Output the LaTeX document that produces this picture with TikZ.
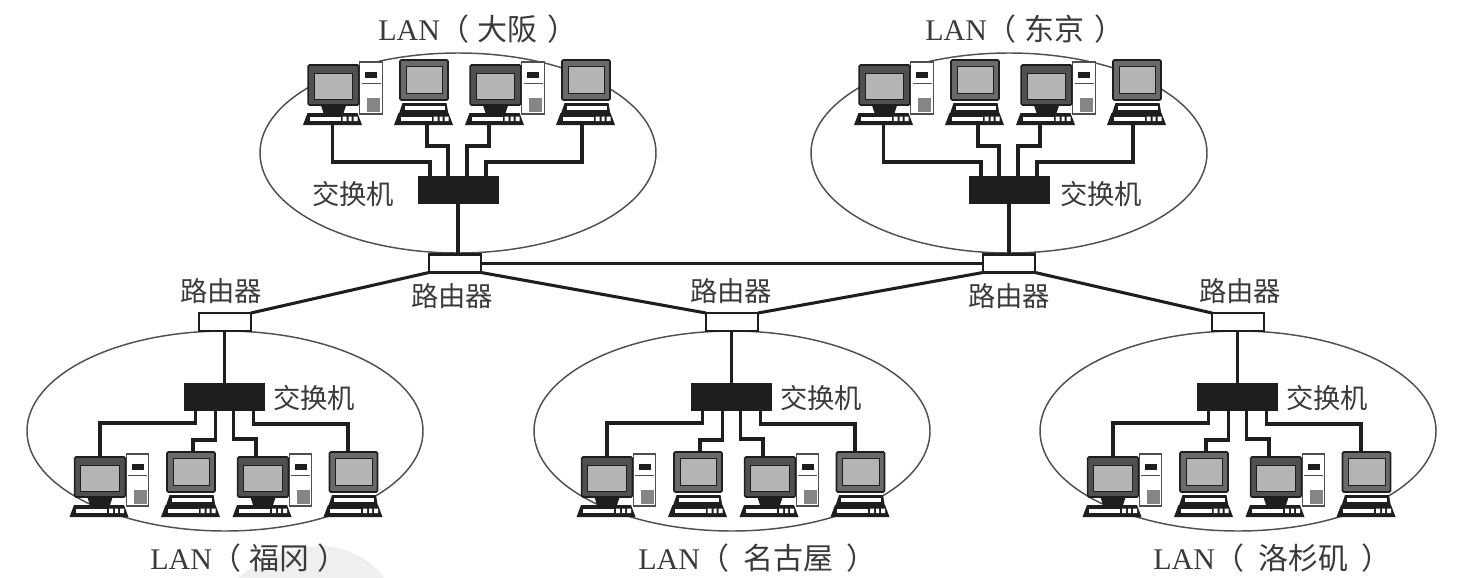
\documentclass[tikz,border=0pt]{standalone}
\usepackage{fontspec}
\setmainfont{Liberation Serif}
\newfontfamily\cjk{Noto Sans CJK SC}
\usetikzlibrary{calc,shapes.geometric}
\definecolor{netInk}{HTML}{1E1E1E}
\definecolor{netText}{HTML}{3A3A3A}
\definecolor{netLine}{HTML}{505050}
\definecolor{netScreen}{HTML}{B4B4B4}
\definecolor{netHaze}{HTML}{EFEFEF}
\tikzset{
  lanring/.style={ellipse,draw=netLine,line width=1.1pt,minimum width=297pt,minimum height=150pt,inner sep=0pt},
  switchbox/.style={draw=netInk,fill=netInk,line width=.5pt,minimum width=60pt,minimum height=20pt,inner sep=0pt,outer sep=0pt},
  routerbox/.style={draw=netInk,fill=white,line width=1.8pt,minimum width=39pt,minimum height=13.5pt,inner sep=0pt,outer sep=0pt},
  wire/.style={draw=netInk,line width=2.3pt},
  trunk/.style={draw=netInk,line width=2.3pt},
  lantag/.style={anchor=west,font=\fontsize{22.5}{26}\selectfont,text=netText,inner sep=0pt},
  devtag/.style={font=\cjk\fontsize{20.5}{24}\selectfont,text=netText,inner sep=0pt},
  monitor/.style={draw=netInk,line width=1.2pt,rounded corners=1pt,inner sep=0pt,outer sep=0pt},
  screen/.style={draw=netInk,fill=netScreen,line width=.8pt,inner sep=0pt},
  keyboard/.style={minimum width=43pt,minimum height=8.25pt,inner sep=0pt,outer sep=0pt},
  keybase/.pic={
    \fill[netInk] (-29.5,0) -- (29.5,0) -- (25,-12) -- (-25,-12) -- cycle;
    \fill[white] (-23,-8.5) rectangle (8,-4);
    \fill[white] (10,-8.5) rectangle (14,-4) (16,-8.5) rectangle (19,-4) (21,-8.5) rectangle (25,-4);
  },
  pcwide/.pic={
    \node[draw=netLine,fill=white,line width=.9pt,minimum width=17pt,minimum height=39pt,inner sep=0pt,outer sep=0pt] (-tow) at (38.5,-37) {};
    \fill[netInk] (32.5,-53) rectangle (44.5,-47);
    \fill[netLine!70] (34.5,-27) rectangle (47.5,-13);
    \draw[netLine,line width=.6pt] (29,-42) -- (48,-42);
    \node[monitor,fill=netLine,minimum width=38pt,minimum height=30pt] (-mon) at (1,-40) {};
    \node[screen,minimum width=29pt,minimum height=20pt] at (1,-38.5) {};
    \fill[netInk] (-12,-21) -- (14,-21) -- (11,-12) -- (-9,-12) -- cycle;
    \pic {keybase};
    \node[keyboard] (-kb) at (0,-5.5) {};
  },
  pcslim/.pic={
    \node[monitor,fill=netLine!85,minimum width=36pt,minimum height=30pt] (-mon) at (.5,-45) {};
    \node[screen,minimum width=27.5pt,minimum height=20pt] at (1,-45) {};
    \fill[netInk] (-21,-22) -- (23,-22) -- (25,-10) -- (-25,-10) -- cycle;
    \fill[white] (-19,-19) rectangle (21,-15.5);
    \pic {keybase};
    \node[keyboard] (-kb) at (0,-5.5) {};
  },
}
\begin{document}
\begin{tikzpicture}[x=.75pt,y=-.75pt]
  \useasboundingbox (0,0) rectangle (1467,578);
  \fill[netHaze] (238,578) .. controls (270,550) and (320,540) .. (345,550) .. controls (365,557) and (378,568) .. (384,578) -- cycle;
  % LANs above the backbone
  \foreach \n/\dx/\cityname/\tagx/\swx/\routerx/\rtx in {o/0/大阪/378/353/452/455,t/551/东京/374/550/458/458} {
    \begin{scope}[shift={(\dx,0)}]
      \node[lanring] (\n lan) at (458,153) {};
      \node[lantag] (\n name) at (\tagx,29) {LAN{\cjk（\hspace{6pt}\cityname\hspace{7pt}）}};
      \node[switchbox] (\n sw) at (458,190) {};
      \node[routerbox] (\n rt) at (\rtx,263.5) {};
      \node[devtag] (\n swtag) at (\swx,194) {交换机};
      \node[devtag] (\n rttag) at (\routerx,296) {路由器};
      \pic (\n1) at (332.5,125) {pcwide};
      \pic (\n2) at (423.5,125) {pcslim};
      \pic (\n3) at (494.5,125) {pcwide};
      \pic (\n4) at (585.5,125) {pcslim};
      \draw[wire] (\n1-kb.south) -- ++(0,37) -| ($(\n sw.north)+(-28,0)$);
      \draw[wire] ($(\n2-kb.south)+(3.5,0)$) -- ++(0,21) -| ($(\n sw.north)+(-10,0)$);
      \draw[wire] ($(\n3-kb.south)+(-5.5,0)$) -- ++(0,21) -| ($(\n sw.north)+(9,0)$);
      \draw[wire] ($(\n4-kb.south)+(-3.5,0)$) -- ++(0,37) -| ($(\n sw.north)+(28,0)$);
      \draw[trunk] (\n sw.south) -- (\n sw.south |- \n rt.north);
    \end{scope}
  }
  % LANs below the backbone
  \foreach \n/\dx/\cityname/\tagx/\routerx/\gapw in {f/0/福冈/150/221/6pt,n/507/名古屋/131/224/10pt,l/1013/洛杉矶/140/227/10pt} {
    \begin{scope}[shift={(\dx,0)}]
      \node[lanring] (\n lan) at (225,431) {};
      \node[lantag] (\n name) at (\tagx,558) {LAN{\cjk（\hspace{\gapw}\cityname\hspace{\gapw}）}};
      \node[switchbox] (\n sw) at (224.5,396.5) {};
      \node[routerbox] (\n rt) at (225,322) {};
      \node[devtag] (\n swtag) at (314,398) {交换机};
      \node[devtag] (\n rttag) at (\routerx,291) {路由器};
      \pic (\n1) at (99,517) {pcwide};
      \pic (\n2) at (190.5,517) {pcslim};
      \pic (\n3) at (262,517) {pcwide};
      \pic (\n4) at (353,517) {pcslim};
      \draw[wire] (\n1-mon.north) -- ++(0,-34) -| ($(\n sw.south)+(-29,0)$);
      \draw[wire] ($(\n2-mon.north)+(2,0)$) -- ++(0,-12) -| ($(\n sw.south)+(-9,0)$);
      \draw[wire] ($(\n3-mon.north)+(-7,0)$) -- ++(0,-18) -| ($(\n sw.south)+(9,0)$);
      \draw[wire] ($(\n4-mon.north)+(-5.5,0)$) -- ++(0,-28) -| ($(\n sw.south)+(29,0)$);
      \draw[trunk] (\n sw.north) -- (\n sw.north |- \n rt.south);
    \end{scope}
  }
  % backbone between routers
  \draw[trunk] (ort.east) -- (trt.west);
  \draw[trunk] (ort.south west) -- (frt.north east);
  \draw[trunk] (ort.south east) -- (nrt.north west);
  \draw[trunk] (trt.south west) -- (nrt.north east);
  \draw[trunk] (trt.south east) -- (lrt.north west);
\end{tikzpicture}
\end{document}
